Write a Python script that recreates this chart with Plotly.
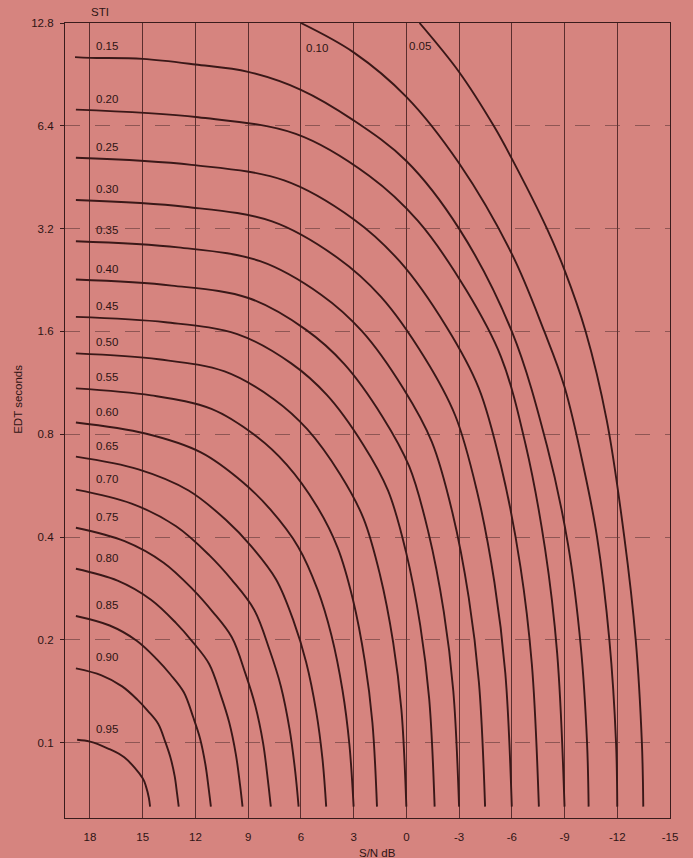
import math
import plotly.graph_objects as go

# ---- Data (S/N in dB, EDT in seconds) ----
sti_names = ["0.05", "0.10", "0.15", "0.20", "0.25", "0.30", "0.35", "0.40", "0.45",
             "0.50", "0.55", "0.60", "0.65", "0.70", "0.75", "0.80", "0.85", "0.90", "0.95"]

sn_005 = [-0.75, -3.0, -4.97, -6.0, -8.0, -9.0, -10.2, -11.4, -12.4, -13.05, -13.4, -13.48]
edt_005 = [12.8, 9.2, 6.4, 5.13, 3.2, 2.42, 1.6, 0.88, 0.4, 0.2, 0.1, 0.065]

sn_010 = [6.0, 3.0, 0.0, -3.0, -6.0, -7.85, -9.0, -10.1, -10.85, -11.55, -11.93, -12.0]
edt_010 = [12.8, 10.5, 7.78, 4.97, 2.7, 1.6, 1.1, 0.635, 0.4, 0.2, 0.1, 0.065]

sn_015 = [18.85, 18.0, 15.0, 12.0, 9.0, 6.0, 3.0, 0.0, -3.0, -6.0, -8.0, -9.2, -9.93, -10.28, -10.37]
edt_015 = [10.17, 10.12, 10.05, 9.68, 9.21, 8.16, 6.64, 5.05, 3.2, 1.6, 0.74, 0.38, 0.19, 0.1, 0.065]

sn_020 = [18.8, 11.85, 6.29, 2.12, -0.66, -3.44, -5.39, -6.78, -7.89, -8.58, -9.0]
edt_020 = [7.14, 6.78, 6.06, 4.57, 3.37, 2.10, 1.346, 0.748, 0.370, 0.183, 0.065]

sn_025 = [18.8, 12.22, 6.95, 3.0, 0.36, -2.27, -4.12, -5.43, -6.49, -7.14, -7.54]
edt_025 = [5.16, 4.92, 4.43, 3.41, 2.56, 1.654, 1.092, 0.632, 0.328, 0.170, 0.065]

sn_030 = [18.8, 12.6, 7.64, 3.92, 1.44, -1.04, -2.78, -4.02, -5.01, -5.63, -6.0]
edt_030 = [3.88, 3.71, 3.36, 2.63, 2.02, 1.34, 0.908, 0.545, 0.295, 0.160, 0.065]

sn_035 = [18.8, 12.98, 8.32, 4.83, 2.50, 0.18, -1.45, -2.62, -3.55, -4.13, -4.48]
edt_035 = [2.94, 2.82, 2.57, 2.047, 1.598, 1.091, 0.760, 0.472, 0.266, 0.150, 0.065]

sn_040 = [18.8, 13.35, 8.99, 5.72, 3.54, 1.36, -0.17, -1.26, -2.13, -2.67, -3.0]
edt_040 = [2.27, 2.18, 2.005, 1.62, 1.286, 0.901, 0.643, 0.412, 0.242, 0.142, 0.065]

sn_045 = [18.8, 13.70, 9.62, 6.55, 4.51, 2.47, 1.04, 0.02, -0.79, -1.30, -1.61]
edt_045 = [1.765, 1.702, 1.572, 1.290, 1.041, 0.748, 0.547, 0.362, 0.2205, 0.1344, 0.065]

sn_050 = [18.8, 14.1, 10.34, 7.52, 5.64, 3.76, 2.44, 1.50, 0.75, 0.28, 0.0]
edt_050 = [1.38, 1.326, 1.222, 1.012, 0.828, 0.610, 0.454, 0.3105, 0.1968, 0.1248, 0.065]

sn_055 = [18.8, 14.52, 11.09, 8.52, 6.81, 5.10, 3.90, 3.04, 2.36, 1.93, 1.67]
edt_055 = [1.09, 1.0395, 0.949, 0.788, 0.652, 0.4935, 0.3715, 0.2626, 0.1731, 0.1144, 0.065]

sn_060 = [18.8, 14.85, 11.69, 9.32, 7.74, 6.16, 5.05, 4.26, 3.63, 3.24, 3.0]
edt_060 = [0.866, 0.804, 0.708, 0.580, 0.482, 0.375, 0.2806, 0.2061, 0.1422, 0.0988, 0.065]

sn_065 = [18.8, 15.24, 12.39, 10.26, 8.83, 7.41, 6.41, 5.70, 5.13, 4.77, 4.56]
edt_065 = [0.688, 0.6315, 0.5476, 0.4488, 0.3764, 0.3005, 0.2266, 0.1721, 0.1236, 0.0895, 0.065]

sn_070 = [18.8, 15.63, 13.10, 11.20, 9.93, 8.66, 7.78, 7.14, 6.64, 6.32, 6.13]
edt_070 = [0.551, 0.5014, 0.4303, 0.3536, 0.2997, 0.2451, 0.1868, 0.1464, 0.1092, 0.0822, 0.065]

sn_075 = [18.8, 16.03, 13.81, 12.15, 11.04, 9.93, 9.15, 8.60, 8.15, 7.88, 7.71]
edt_075 = [0.426, 0.3892, 0.3366, 0.2812, 0.2425, 0.2035, 0.159, 0.1287, 0.0997, 0.0779, 0.065]

sn_080 = [18.8, 16.43, 14.53, 13.11, 12.16, 11.22, 10.55, 10.08, 9.70, 9.46, 9.32]
edt_080 = [0.323, 0.2981, 0.2622, 0.2243, 0.1974, 0.1701, 0.1374, 0.1148, 0.0925, 0.0751, 0.065]

sn_085 = [18.8, 16.88, 15.34, 14.19, 13.42, 12.66, 12.12, 11.73, 11.43, 11.24, 11.12]
edt_085 = [0.235, 0.2204, 0.1989, 0.1754, 0.1584, 0.1405, 0.1185, 0.1026, 0.0862, 0.073, 0.065]

sn_090 = [18.8, 17.34, 16.17, 15.29, 14.71, 14.12, 13.71, 13.42, 13.18, 13.04, 12.95]
edt_090 = [0.165, 0.1575, 0.1462, 0.1335, 0.124, 0.1137, 0.1004, 0.0905, 0.0798, 0.0707, 0.065]

sn_095 = [18.73, 18.0, 17.0, 16.05, 15.0, 14.81, 14.65, 14.58]
edt_095 = [0.102, 0.1007, 0.0963, 0.0906, 0.0787, 0.0744, 0.069, 0.065]

x_ticks = [18, 15, 12, 9, 6, 3, 0, -3, -6, -9, -12, -15]
x_tick_text = ["18", "15", "12", "9", "6", "3", "0", "-3", "-6", "-9", "-12", "-15"]
y_ticks = [0.1, 0.2, 0.4, 0.8, 1.6, 3.2, 6.4, 12.8]
y_tick_text = ["0.1", "0.2", "0.4", "0.8", "1.6", "3.2", "6.4", "12.8"]

curves = [
    (sn_005, edt_005), (sn_010, edt_010), (sn_015, edt_015), (sn_020, edt_020),
    (sn_025, edt_025), (sn_030, edt_030), (sn_035, edt_035), (sn_040, edt_040),
    (sn_045, edt_045), (sn_050, edt_050), (sn_055, edt_055), (sn_060, edt_060),
    (sn_065, edt_065), (sn_070, edt_070), (sn_075, edt_075), (sn_080, edt_080),
    (sn_085, edt_085), (sn_090, edt_090), (sn_095, edt_095),
]

BG = "#D6847F"
INK = "#2E1414"
CURVE = "#3A1818"
FONT = "Liberation Sans, Arial, sans-serif"

fig = go.Figure()
for name, (xs, ys) in zip(sti_names, curves):
    fig.add_trace(go.Scatter(
        x=xs, y=ys, mode="lines", name=name,
        line=dict(color=CURVE, width=1.9, shape="spline", smoothing=1.0),
        hoverinfo="skip", showlegend=False,
    ))

annotations = []
# Curve labels along the left (STI values)
for name, (xs, ys) in zip(sti_names[2:], curves[2:]):
    annotations.append(dict(
        x=17.75, y=math.log10(ys[0]), xref="x", yref="y",
        text=name, showarrow=False, xanchor="left", yanchor="bottom",
        yshift=3, font=dict(family=FONT, size=11.5, color=INK),
    ))
# Labels for the two curves that enter from the top
annotations.append(dict(x=5.85, y=math.log10(10.85), xref="x", yref="y", text=sti_names[1],
                        showarrow=False, xanchor="left", yanchor="middle",
                        font=dict(family=FONT, size=11.5, color=INK)))
annotations.append(dict(x=-0.05, y=math.log10(10.95), xref="x", yref="y", text=sti_names[0],
                        showarrow=False, xanchor="left", yanchor="middle",
                        font=dict(family=FONT, size=11.5, color=INK)))
# STI header
annotations.append(dict(x=0.058, y=1.0, xref="paper", yref="paper", text="STI",
                        showarrow=False, xanchor="center", yanchor="bottom", yshift=3,
                        font=dict(family=FONT, size=11.5, color=INK)))
# Axis titles
annotations.append(dict(x=0.517, y=0, xref="paper", yref="paper", text="S/N dB",
                        showarrow=False, xanchor="center", yanchor="top", yshift=-27,
                        font=dict(family=FONT, size=11.5, color=INK)))
annotations.append(dict(x=0, y=0.526, xref="paper", yref="paper", text="EDT seconds",
                        showarrow=False, xanchor="center", yanchor="middle", xshift=-47,
                        textangle=-90, font=dict(family=FONT, size=11.5, color=INK)))

fig.update_layout(
    width=693, height=858,
    margin=dict(l=65, r=23, t=23, b=40),
    paper_bgcolor=BG, plot_bgcolor=BG,
    font=dict(family=FONT, size=11.5, color=INK),
    annotations=annotations,
    showlegend=False,
)
fig.update_xaxes(
    range=[19.42, -15], tickvals=x_ticks, ticktext=x_tick_text,
    showgrid=True, gridcolor="#5A2E2E", gridwidth=1,
    showline=True, linecolor="#3A1C1C", linewidth=1.3, mirror=True,
    ticks="", ticklabelstandoff=8, zeroline=False,
    tickfont=dict(family=FONT, size=11.5, color=INK),
)
fig.update_yaxes(
    type="log", range=[math.log10(0.0602), math.log10(12.8)],
    tickvals=y_ticks, ticktext=y_tick_text,
    showgrid=True, gridcolor="rgba(95,55,55,0.6)", gridwidth=1, griddash="longdash",
    showline=True, linecolor="#3A1C1C", linewidth=1.3, mirror=True,
    ticks="outside", ticklen=4, tickcolor="#3A1C1C", ticklabelstandoff=4,
    zeroline=False,
    tickfont=dict(family=FONT, size=11.5, color=INK),
)

fig.write_html("out.html")
